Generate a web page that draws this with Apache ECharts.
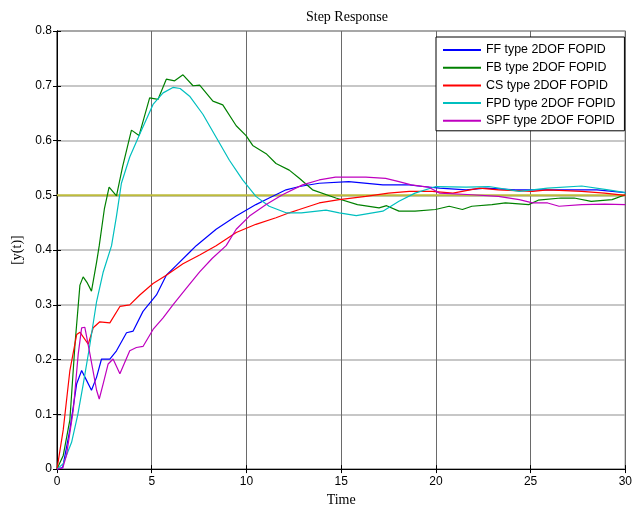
<!DOCTYPE html>
<html>
<head>
<meta charset="utf-8">
<script src="https://cdn.jsdelivr.net/npm/echarts@6/dist/echarts.min.js"></script>
<style>
html,body{margin:0;padding:0;background:#fff;}
#chart{width:635px;height:512px;}
</style>
</head>
<body>
<div id="chart"></div>
<script>
const seriesNames = ['FF type 2DOF FOPID','FB type 2DOF FOPID','CS type 2DOF FOPID','FPD type 2DOF FOPID','SPF type 2DOF FOPID'];
const xTicks = [0,5,10,15,20,25,30];
const yTicks = [0,0.1,0.2,0.3,0.4,0.5,0.6,0.7,0.8];
const refLevel = 0.5;

const ffData = [[0,0],[0.3,0.003],[0.68,0.072],[1.04,0.156],[1.3,0.18],[1.56,0.162],[1.82,0.144],[2.09,0.168],[2.35,0.201],[2.79,0.201],[3.14,0.216],[3.67,0.249],[4.02,0.252],[4.54,0.288],[5.25,0.318],[5.77,0.354],[6.3,0.372],[7.0,0.396],[7.35,0.408],[8.4,0.438],[9.46,0.462],[10.5,0.483],[11.2,0.495],[12.09,0.51],[12.8,0.516],[13.84,0.522],[15.4,0.525],[17.2,0.519],[18.6,0.519],[19.3,0.516],[20.2,0.513],[21.6,0.51],[22.6,0.513],[24.2,0.51],[25.9,0.51],[27.1,0.51],[28.5,0.51],[30,0.505]];
const fbData = [[0,0],[0.33,0.025],[0.68,0.09],[0.95,0.228],[1.21,0.336],[1.38,0.351],[1.6,0.34],[1.82,0.325],[2.09,0.378],[2.23,0.408],[2.5,0.475],[2.75,0.515],[3.14,0.499],[3.46,0.552],[3.93,0.619],[4.33,0.609],[4.89,0.678],[5.33,0.675],[5.77,0.712],[6.21,0.709],[6.65,0.72],[7.18,0.7],[7.53,0.701],[8.23,0.672],[8.75,0.665],[9.46,0.627],[9.98,0.609],[10.33,0.591],[11.04,0.576],[11.56,0.558],[12.26,0.546],[12.79,0.531],[13.49,0.51],[14.72,0.495],[15.86,0.483],[17.0,0.477],[17.4,0.481],[18.05,0.471],[18.9,0.471],[19.98,0.474],[20.7,0.48],[21.4,0.474],[21.9,0.48],[22.96,0.483],[23.67,0.486],[24.9,0.483],[25.4,0.491],[26.6,0.495],[27.3,0.495],[28.2,0.489],[29.3,0.492],[30,0.501]];
const csData = [[0,0],[0.33,0.072],[0.68,0.18],[1.04,0.246],[1.21,0.25],[1.65,0.228],[1.91,0.258],[2.26,0.269],[2.79,0.267],[3.32,0.297],[3.84,0.3],[4.37,0.318],[5.07,0.339],[5.77,0.354],[6.65,0.375],[7.53,0.391],[8.4,0.408],[9.46,0.432],[10.5,0.447],[11.56,0.459],[12.26,0.468],[12.79,0.474],[13.84,0.486],[14.9,0.492],[16.3,0.498],[17.5,0.504],[18.6,0.507],[19.8,0.507],[20.9,0.504],[22.3,0.513],[23.3,0.51],[25.1,0.507],[25.9,0.51],[27.7,0.507],[28.9,0.504],[30,0.5]];
const fpdData = [[0,0],[0.33,0.01],[0.77,0.049],[1.1,0.1],[1.39,0.156],[1.74,0.228],[2.09,0.306],[2.44,0.36],[2.88,0.408],[3.14,0.462],[3.4,0.522],[3.84,0.57],[4.37,0.612],[5.07,0.666],[5.6,0.687],[6.12,0.697],[6.5,0.695],[7.0,0.681],[7.7,0.648],[8.4,0.606],[9.1,0.564],[9.8,0.528],[10.5,0.498],[11.2,0.48],[12.09,0.468],[12.9,0.468],[14.2,0.473],[14.9,0.468],[15.8,0.463],[17.2,0.471],[18.05,0.489],[18.9,0.504],[20.0,0.516],[21.6,0.515],[22.8,0.516],[24.4,0.507],[25.9,0.513],[27.7,0.517],[29.1,0.51],[30,0.505]];
const spfData = [[0,0],[0.3,0.002],[0.5,0.025],[0.86,0.108],[1.12,0.21],[1.3,0.258],[1.47,0.259],[1.74,0.21],[2.09,0.144],[2.23,0.128],[2.44,0.156],[2.7,0.192],[2.96,0.201],[3.32,0.174],[3.4,0.173],[3.84,0.216],[4.19,0.222],[4.54,0.224],[5.07,0.255],[5.6,0.276],[6.12,0.3],[6.82,0.33],[7.53,0.36],[8.2,0.385],[8.93,0.408],[9.46,0.438],[10.16,0.462],[11.04,0.483],[11.9,0.501],[12.96,0.519],[13.84,0.528],[14.7,0.533],[16.3,0.533],[17.35,0.531],[18.05,0.525],[18.7,0.519],[19.6,0.515],[20.2,0.504],[21.9,0.501],[23.3,0.498],[24.4,0.492],[25.1,0.486],[25.9,0.486],[26.5,0.48],[27.7,0.483],[28.9,0.484],[30,0.483]];
const refData = [[xTicks[0], refLevel],[xTicks[xTicks.length-1], refLevel]];

const colors = ['#0000ff','#008000','#ff0000','#00bfbf','#bf00bf'];
const allData = [ffData, fbData, csData, fpdData, spfData];

const chart = echarts.init(document.getElementById('chart'), null, {renderer:'canvas'});
const sans = 'Liberation Sans, Arial, sans-serif';
const serif = 'Liberation Serif, Times New Roman, serif';

const series = [{
  name: 'ref', type: 'line', data: refData, showSymbol: false, silent: true,
  lineStyle: {color: '#bdbb3c', width: 2}, z: 1
}];
seriesNames.forEach((n, i) => {
  series.push({
    name: n, type: 'line', data: allData[i], showSymbol: false, symbol: 'none',
    lineStyle: {color: colors[i], width: 1.2}, itemStyle: {color: colors[i]}, z: 3
  });
});

chart.setOption({
  animation: false,
  backgroundColor: '#fff',
  title: {
    text: 'Step Response', left: 342, top: 5, textAlign: 'center',
    textStyle: {fontFamily: serif, fontSize: 14, fontWeight: 'normal', color: '#000'}
  },
  grid: {left: 57, right: 7, top: 31, bottom: 35, show: true, borderColor: '#000', borderWidth: 1},
  legend: {
    data: seriesNames, orient: 'vertical', left: 436, top: 37, selectedMode: false,
    icon: 'rect', itemWidth: 38, itemHeight: 2, itemGap: 3.7,
    backgroundColor: '#fff', borderColor: '#000', borderWidth: 1,
    padding: [6, 9, 3, 7],
    textStyle: {fontFamily: sans, fontSize: 12.4, color: '#000', lineHeight: 14, padding: [0,0,0,0]}
  },
  xAxis: [{
    type: 'value', min: 0, max: 30, interval: 5, position: 'bottom',
    name: 'Time', nameLocation: 'middle', nameGap: 21,
    nameTextStyle: {fontFamily: serif, fontSize: 14, color: '#000'},
    axisLine: {show: true, lineStyle: {color: '#000', width: 1}},
    axisTick: {show: true, inside: true, length: 4, lineStyle: {color: '#000'}},
    axisLabel: {fontFamily: sans, fontSize: 12, color: '#000', margin: 7},
    splitLine: {show: true, lineStyle: {color: '#6a6a6a', width: 1}}
  }, {
    type: 'value', min: 0, max: 30, interval: 5, position: 'top',
    axisLine: {show: true, lineStyle: {color: '#000'}},
    axisTick: {show: true, inside: true, length: 4, lineStyle: {color: '#000'}},
    axisLabel: {show: false}, splitLine: {show: false}
  }],
  yAxis: [{
    type: 'value', min: 0, max: 0.8, interval: 0.1, position: 'left',
    name: '[y(t)]', nameLocation: 'middle', nameGap: 30, nameRotate: 90,
    nameTextStyle: {fontFamily: serif, fontSize: 14, color: '#000'},
    axisLine: {show: true, lineStyle: {color: '#000', width: 1}},
    axisTick: {show: true, inside: true, length: 4, lineStyle: {color: '#000'}},
    axisLabel: {fontFamily: sans, fontSize: 12, color: '#000', margin: 5,
      formatter: v => String(Math.round(v*10)/10)},
    splitLine: {show: true, lineStyle: {color: '#b4b4b4', width: 1.5}}
  }, {
    type: 'value', min: 0, max: 0.8, interval: 0.1, position: 'right',
    axisLine: {show: true, lineStyle: {color: '#000'}},
    axisTick: {show: true, inside: true, length: 4, lineStyle: {color: '#000'}},
    axisLabel: {show: false}, splitLine: {show: false}
  }],
  series: series
});
</script>
</body>
</html>
